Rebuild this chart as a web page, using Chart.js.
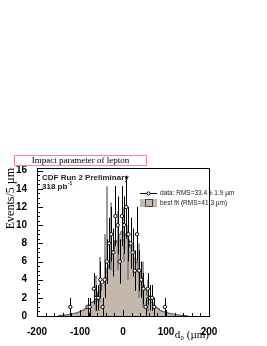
<!DOCTYPE html>
<html>
<head>
<meta charset="utf-8">
<script src="https://cdn.jsdelivr.net/npm/chart.js@4"></script>
<style>
  html, body { margin: 0; padding: 0; background: #fff; }
  #wrap { width: 267px; height: 346px; }
</style>
</head>
<body>
<div id="wrap"><canvas id="d0chart"></canvas></div>
<script>
// Impact parameter of lepton, 5 um bins

// best fit histogram (bin centres and heights)
var fitCenters = [-147.5, -142.5, -137.5, -132.5, -127.5, -122.5, -117.5, -112.5, -107.5, -102.5,
  -97.5, -92.5, -87.5, -82.5, -77.5, -72.5, -67.5, -62.5, -57.5, -52.5,
  -47.5, -42.5, -37.5, -32.5, -27.5, -22.5, -17.5, -12.5, -7.5, -2.5,
  2.5, 7.5, 12.5, 17.5, 22.5, 27.5, 32.5, 37.5, 42.5, 47.5,
  52.5, 57.5, 62.5, 67.5, 72.5, 77.5, 82.5, 87.5, 92.5, 97.5,
  102.5, 107.5, 112.5, 117.5, 122.5, 127.5, 132.5, 137.5, 142.5, 147.5];
var fitValues = [0.05, 0.08, 0.1, 0.12, 0.15, 0.2, 0.25, 0.3, 0.35, 0.45,
  0.55, 0.65, 0.8, 1.0, 1.2, 1.5, 1.6, 2.1, 2.6, 2.8,
  3.6, 4.1, 5.2, 5.6, 6.8, 7.2, 8.3, 8.1, 9.0, 9.3,
  9.1, 8.9, 8.4, 7.6, 7.8, 6.3, 5.9, 4.8, 4.4, 3.4,
  3.0, 2.3, 2.0, 1.5, 1.2, 0.95, 0.8, 0.6, 0.5, 0.42,
  0.35, 0.3, 0.24, 0.2, 0.15, 0.12, 0.1, 0.07, 0.05, 0.03];

// data points (non-empty bins)
var dataD0 = [-122.5, -82.5, -77.5, -67.5, -62.5, -57.5, -52.5, -47.5, -42.5, -37.5,
  -32.5, -27.5, -22.5, -17.5, -12.5, -7.5, -2.5, 2.5, 7.5, 12.5,
  17.5, 22.5, 27.5, 32.5, 37.5, 42.5, 47.5, 52.5, 57.5, 62.5,
  67.5, 72.5, 97.5];
var dataCounts = [1, 1, 1, 3, 2, 2, 4, 1, 4, 6,
  8, 9, 7, 11, 10, 6, 11, 10, 12, 9,
  8, 7, 5, 9, 5, 4, 3, 1, 3, 2,
  2, 1, 1];

// grey bands on the fit
var greyD0 = [-62.5, -52.5, -42.5, -37.5, -27.5, -12.5, 2.5, 12.5, 37.5, 47.5, 57.5];
var greyLo = [0.5, 1.5, 3, 6, 5, 5, 6, 4, 2, 1, 0.5];
var greyHi = [4.5, 6.5, 9, 14.3, 12.5, 11.5, 12, 10, 8, 6, 4];

var xTicks = [-200, -100, 0, 100, 200];
var yTicks = [0, 2, 4, 6, 8, 10, 12, 14, 16];

var fitColor = '#c4b8ab';

// step points at the left bin edges, closed at both ends
var fitPoints = [{ x: fitCenters[0] - 2.5, y: 0 }];
fitCenters.forEach(function (c, i) {
  fitPoints.push({ x: c - 2.5, y: fitValues[i] });
});
fitPoints.push({ x: fitCenters[fitCenters.length - 1] + 2.5, y: 0 });

var dataPoints = dataD0.map(function (d, i) {
  return { x: d, y: dataCounts[i] };
});

var extras = {
  id: 'extras',
  afterDatasetDraw: function (chart, args) {
    if (args.index !== 1) return;
    var ctx = chart.ctx, xs = chart.scales.x, ys = chart.scales.y;
    ctx.save();
    ctx.strokeStyle = 'rgba(120,120,120,0.75)';
    ctx.lineWidth = 2;
    greyD0.forEach(function (d, i) {
      var px = Math.round(xs.getPixelForValue(d));
      ctx.beginPath();
      ctx.moveTo(px, ys.getPixelForValue(greyLo[i]));
      ctx.lineTo(px, ys.getPixelForValue(greyHi[i]));
      ctx.stroke();
    });
    ctx.restore();
  },
  beforeDatasetDraw: function (chart, args) {
    if (args.index !== 0) return;
    var ctx = chart.ctx, xs = chart.scales.x, ys = chart.scales.y;
    ctx.save();
    ctx.strokeStyle = '#000';
    ctx.lineWidth = 1;
    dataD0.forEach(function (d, i) {
      var n = dataCounts[i], e = Math.sqrt(n);
      var px = Math.round(xs.getPixelForValue(d)) + 0.5;
      ctx.beginPath();
      ctx.moveTo(px, ys.getPixelForValue(Math.max(0, n - e)));
      ctx.lineTo(px, ys.getPixelForValue(n + e));
      ctx.stroke();
    });
    ctx.restore();
  },
  afterDraw: function (chart) {
    var ctx = chart.ctx, a = chart.chartArea;
    var xs = chart.scales.x, ys = chart.scales.y;
    ctx.save();
    // frame
    ctx.strokeStyle = '#000';
    ctx.lineWidth = 1;
    ctx.strokeRect(Math.round(a.left) + 0.5, Math.round(a.top) + 0.5,
      Math.round(a.right - a.left), Math.round(a.bottom - a.top));
    // inward ticks
    ctx.beginPath();
    for (var v = -200; v <= 200; v += 20) {
      var px = Math.round(xs.getPixelForValue(v)) + 0.5;
      var len = (v % 100 === 0) ? 6 : 3;
      ctx.moveTo(px, a.bottom);
      ctx.lineTo(px, a.bottom - len);
    }
    for (var w = 0; w <= 16; w += 0.5) {
      var py = Math.round(ys.getPixelForValue(w)) + 0.5;
      var l2 = (w % 2 === 0) ? 6 : 3;
      ctx.moveTo(a.left, py);
      ctx.lineTo(a.left + l2, py);
    }
    ctx.stroke();

    // title box
    ctx.strokeStyle = '#f08a8a';
    ctx.fillStyle = '#fff';
    ctx.fillRect(14.5, 155.5, 132, 10);
    ctx.strokeRect(14.5, 155.5, 132, 10);
    ctx.fillStyle = '#000';
    ctx.font = '9px "Liberation Serif", serif';
    ctx.textAlign = 'center';
    ctx.textBaseline = 'middle';
    ctx.fillText('Impact parameter of lepton', 80.5, 161);

    // CDF label
    ctx.textAlign = 'left';
    ctx.textBaseline = 'alphabetic';
    ctx.font = 'bold 8px "Liberation Sans", sans-serif';
    ctx.fillStyle = '#222';
    ctx.fillText('CDF Run 2 Preliminary', 42, 180);
    ctx.fillText('318 pb', 42, 189);
    var wpb = ctx.measureText('318 pb').width;
    ctx.font = 'bold 5px "Liberation Sans", sans-serif';
    ctx.fillText('-1', 42 + wpb + 0.5, 185);

    // legend
    ctx.strokeStyle = '#000';
    ctx.beginPath();
    ctx.moveTo(140, 193.5);
    ctx.lineTo(157, 193.5);
    ctx.stroke();
    ctx.beginPath();
    ctx.arc(148.5, 193.5, 1.6, 0, Math.PI * 2);
    ctx.fillStyle = '#fff';
    ctx.fill();
    ctx.stroke();
    ctx.fillStyle = fitColor;
    ctx.fillRect(140, 199, 17, 8);
    ctx.strokeStyle = '#444';
    ctx.strokeRect(145.5, 199.5, 7, 7);
    ctx.fillStyle = '#222';
    ctx.font = '6.5px "Liberation Sans", sans-serif';
    ctx.textBaseline = 'middle';
    ctx.fillText('data: RMS=33.4 \u00b1 1.9 \u00b5m', 160, 193.5);
    ctx.fillText('best fit (RMS=41.3 \u00b5m)', 160, 203);
    ctx.restore();
  }
};

var ctx = document.getElementById('d0chart').getContext('2d');
new Chart(ctx, {
  type: 'line',
  data: {
    datasets: [
      {
        label: 'data',
        data: dataPoints,
        showLine: false,
        pointStyle: 'circle',
        pointRadius: 1.7,
        pointBorderWidth: 1,
        pointBackgroundColor: '#fff',
        pointBorderColor: '#000'
      },
      {
        label: 'best fit',
        data: fitPoints,
        stepped: 'before',
        fill: 'origin',
        backgroundColor: fitColor,
        borderColor: '#4a4a4a',
        borderWidth: 1,
        pointRadius: 0
      }
    ]
  },
  options: {
    responsive: true,
    maintainAspectRatio: false,
    animation: false,
    layout: { padding: { top: 168, right: 58, bottom: 0, left: 0 } },
    plugins: {
      legend: { display: false },
      tooltip: { enabled: false }
    },
    scales: {
      x: {
        type: 'linear',
        min: -200,
        max: 200,
        grid: { display: false },
        border: { display: false },
        afterBuildTicks: function (s) {
          s.ticks = xTicks.map(function (v) { return { value: v }; });
        },
        afterFit: function (s) { s.height = 30; },
        ticks: {
          padding: 2,
          maxRotation: 0,
          color: '#000',
          font: { family: '"Liberation Sans", sans-serif', size: 10, weight: 'bold' }
        },
        title: {
          display: true,
          text: 'd\u2080 (\u00b5m)',
          align: 'end',
          color: '#000',
          padding: { top: 0, bottom: 4 },
          font: { family: '"Liberation Serif", serif', size: 11 }
        }
      },
      y: {
        min: 0,
        max: 16.3,
        grid: { display: false },
        border: { display: false },
        afterBuildTicks: function (s) {
          s.ticks = yTicks.map(function (v) { return { value: v }; });
        },
        afterFit: function (s) { s.width = 37; },
        ticks: {
          padding: 2,
          color: '#000',
          font: { family: '"Liberation Sans", sans-serif', size: 10, weight: 'bold' }
        },
        title: {
          display: true,
          text: 'Events/5 \u00b5m',
          align: 'end',
          color: '#000',
          padding: { top: 4, bottom: 0 },
          font: { family: '"Liberation Serif", serif', size: 12 }
        }
      }
    }
  },
  plugins: [extras]
});
</script>
</body>
</html>
